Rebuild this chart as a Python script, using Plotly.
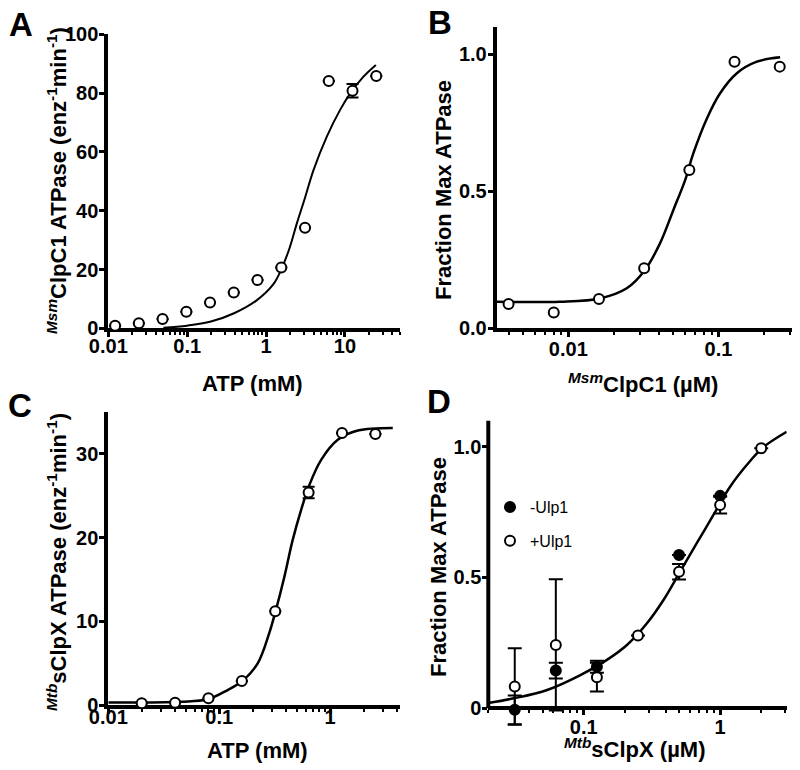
import plotly.graph_objects as go

W, H = 800, 770

# ---------------- data ----------------
# Panel A: MsmClpC1 ATPase vs ATP (mM)
A_atp = [0.0122, 0.0244, 0.0488, 0.0977, 0.195, 0.39, 0.78, 1.5625, 3.125, 6.25, 12.5, 25]
A_rate = [0.9, 1.7, 3.2, 5.6, 8.8, 12.2, 16.4, 20.7, 34.2, 84.1, 80.8, 85.8]
A_err = [0, 0, 0, 0, 0, 0, 0, 0, 0, 0, 2.3, 0]
A_fit_x = [0.05, 0.1, 0.2, 0.4, 0.76, 1.24, 1.56, 2.0, 2.46, 3.13, 4.0, 5.9, 8.7, 11.7, 17.2, 24.7]
A_fit_y = [0.2, 0.9, 2.3, 5.2, 9.5, 15.0, 20.0, 27.5, 35.7, 44.5, 53.8, 65.2, 74.3, 79.9, 85.6, 89.6]

# Panel B: Fraction max ATPase vs MsmClpC1 (uM)
B_conc = [0.004, 0.008, 0.016, 0.032, 0.064, 0.128, 0.256]
B_frac = [0.089, 0.058, 0.107, 0.219, 0.578, 0.973, 0.955]
B_fit_x = [0.00333, 0.00881, 0.01626, 0.0245, 0.0324, 0.0408, 0.0501, 0.060, 0.0681,
           0.0838, 0.1026, 0.1327, 0.1803, 0.2576]
B_fit_y = [0.097, 0.097, 0.109, 0.146, 0.213, 0.310, 0.432, 0.541, 0.639,
           0.766, 0.858, 0.931, 0.973, 0.989]

# Panel C: MtbsClpX ATPase vs ATP (mM)
C_atp = [0.02, 0.04, 0.08, 0.16, 0.32, 0.64, 1.28, 2.56]
C_rate = [0.2, 0.27, 0.8, 2.87, 11.2, 25.4, 32.5, 32.4]
C_err = [0, 0, 0, 0, 0, 0.7, 0, 0]
C_fit_x = [0.01, 0.0451, 0.0785, 0.119, 0.1626, 0.2223, 0.2825, 0.325, 0.3864, 0.4592,
           0.547, 0.65, 0.83, 1.172, 1.778, 3.67]
C_fit_y = [0.3, 0.39, 0.68, 1.79, 2.9, 4.98, 8.6, 11.4, 15.3, 19.7,
           23.3, 26.3, 29.3, 31.7, 32.8, 33.1]

# Panel D: Fraction max ATPase vs MtbsClpX (uM)
D_conc_minus = [0.03125, 0.0625, 0.125, 0.5, 1.0]
D_frac_minus = [-0.006, 0.144, 0.159, 0.586, 0.812]
D_err_minus = [0.055, 0.03, 0.023, 0.0, 0.0]
D_conc_plus = [0.03125, 0.0625, 0.125, 0.25, 0.5, 1.0, 2.0]
D_frac_plus = [0.083, 0.242, 0.119, 0.278, 0.522, 0.777, 0.994]
D_err_plus = [0.146, 0.251, 0.055, 0.0, 0.03, 0.032, 0.0]
D_fit_x = [0.0205, 0.0308, 0.054, 0.0946, 0.148, 0.2075, 0.291, 0.3846, 0.509, 0.6745,
           0.893, 1.183, 1.567, 2.075, 3.076]
D_fit_y = [0.021, 0.038, 0.070, 0.127, 0.185, 0.242, 0.325, 0.414, 0.522, 0.631,
           0.739, 0.847, 0.930, 0.998, 1.057]

LEGEND_LABELS = ["-Ulp1", "+Ulp1"]

# ---------------- styling ----------------
FONT = "Liberation Sans, Arial, sans-serif"
BLACK = "black"


def px_x(p):
    return p / W


def px_y(p):
    return 1 - p / H


def minor_vals(lo_exp, hi_exp):
    vals = []
    for e in range(lo_exp, hi_exp + 1):
        for m in range(2, 10):
            vals.append(m * 10 ** e)
    return vals


def bold_labels(labels):
    return ["<b>%s</b>" % s for s in labels]


def axis_base():
    return dict(showline=True, linewidth=4, linecolor=BLACK, mirror=False,
                ticks="outside", tickwidth=3, ticklen=5, tickcolor=BLACK,
                showgrid=False, zeroline=False, layer="below traces", automargin=False,
                tickfont=dict(family=FONT, size=20, color=BLACK))


def log_axis(rng, tvals, ttext, lo_exp, hi_exp, **kw):
    d = axis_base()
    d.update(type="log", range=rng, tickmode="array", tickvals=tvals, ticktext=bold_labels(ttext),
             minor=dict(tickmode="array", tickvals=minor_vals(lo_exp, hi_exp),
                        ticks="outside", ticklen=3, tickwidth=2, tickcolor=BLACK, showgrid=False))
    d.update(kw)
    return d


def lin_axis(rng, tvals, ttext, **kw):
    d = axis_base()
    d.update(range=rng, tickmode="array", tickvals=tvals, ticktext=bold_labels(ttext),
             ticklabelstandoff=-3)
    d.update(kw)
    return d


open_marker = dict(symbol="circle", size=10, color="white", line=dict(color=BLACK, width=2))
filled_marker = dict(symbol="circle", size=10, color=BLACK, line=dict(color=BLACK, width=2))


def err(vals, w=6):
    return dict(type="data", array=vals, visible=True, color=BLACK, thickness=2, width=w)


fig = go.Figure()

# Panel A
fig.add_trace(go.Scatter(x=A_fit_x, y=A_fit_y, mode="lines", line=dict(color=BLACK, width=2, shape="spline"),
                         xaxis="x", yaxis="y", showlegend=False, hoverinfo="skip"))
fig.add_trace(go.Scatter(x=A_atp, y=A_rate, mode="markers", marker=open_marker, error_y=err(A_err),
                         xaxis="x", yaxis="y", showlegend=False, cliponaxis=False))
# Panel B
fig.add_trace(go.Scatter(x=B_fit_x, y=B_fit_y, mode="lines", line=dict(color=BLACK, width=2.5, shape="spline"),
                         xaxis="x2", yaxis="y2", showlegend=False, hoverinfo="skip"))
fig.add_trace(go.Scatter(x=B_conc, y=B_frac, mode="markers", marker=open_marker,
                         xaxis="x2", yaxis="y2", showlegend=False, cliponaxis=False))
# Panel C
fig.add_trace(go.Scatter(x=C_fit_x, y=C_fit_y, mode="lines", line=dict(color=BLACK, width=2.5, shape="spline"),
                         xaxis="x3", yaxis="y3", showlegend=False, hoverinfo="skip"))
fig.add_trace(go.Scatter(x=C_atp, y=C_rate, mode="markers", marker=open_marker, error_y=err(C_err),
                         xaxis="x3", yaxis="y3", showlegend=False, cliponaxis=False))
# Panel D
fig.add_trace(go.Scatter(x=D_fit_x, y=D_fit_y, mode="lines", line=dict(color=BLACK, width=2.5, shape="spline"),
                         xaxis="x4", yaxis="y4", showlegend=False, hoverinfo="skip"))
fig.add_trace(go.Scatter(x=D_conc_minus, y=D_frac_minus, mode="markers", marker=filled_marker,
                         error_y=err(D_err_minus, 7), xaxis="x4", yaxis="y4", name=LEGEND_LABELS[0],
                         legendgroup="m", cliponaxis=False))
fig.add_trace(go.Scatter(x=D_conc_plus, y=D_frac_plus, mode="markers", marker=open_marker,
                         error_y=err(D_err_plus, 7), xaxis="x4", yaxis="y4", name=LEGEND_LABELS[1],
                         legendgroup="p", cliponaxis=False))

# ---------------- axes / layout ----------------
D_ymin, D_ymax = -0.085, 1.1
D_bottom_px = 730.5
D_zero_px = 708.3

layout = dict(
    width=W, height=H, margin=dict(l=0, r=0, t=0, b=0, pad=0, autoexpand=False),
    paper_bgcolor="white", plot_bgcolor="white",
    font=dict(family=FONT, color=BLACK),
    xaxis=log_axis([-2, 1.699], [0.01, 0.1, 1, 10], ["0.01", "0.1", "1", "10"], -2, 1,
                   domain=[px_x(108.3), px_x(400)], anchor="y", ticklabelstandoff=-8),
    yaxis=lin_axis([0, 100], [0, 20, 40, 60, 80, 100], ["0", "20", "40", "60", "80", "100"],
                   domain=[px_y(328.3), px_y(34.3)], anchor="x"),
    xaxis2=log_axis([-2.477, -0.51], [0.01, 0.1], ["0.01", "0.1"], -3, -1,
                    domain=[px_x(496.7), px_x(792)], anchor="y2", ticklabelstandoff=-5),
    yaxis2=lin_axis([0, 1.1], [0, 0.5, 1.0], ["0.0", "0.5", "1.0"],
                    domain=[px_y(328.3), px_y(328.3 - 1.1 * 274)], anchor="x2"),
    xaxis3=log_axis([-2, 0.63], [0.01, 0.1, 1], ["0.01", "0.1", "1"], -2, 0,
                    domain=[px_x(108.3), px_x(400)], anchor="y3", ticklabelstandoff=-14),
    yaxis3=lin_axis([0, 35], [0, 10, 20, 30], ["0", "10", "20", "30"],
                    domain=[px_y(705), px_y(705 - 35 * 8.367)], anchor="x3"),
    xaxis4=log_axis([-1.699, 0.488], [0.1, 1], ["0.1", "1"], -2, 0,
                    domain=[px_x(488.3), px_x(786.7)], anchor="free", position=px_y(D_zero_px),
                    ticklabelstandoff=-5),
    yaxis4=lin_axis([D_ymin, D_ymax], [0, 0.5, 1.0], ["0", "0.5", "1.0"],
                    domain=[px_y(D_bottom_px), px_y(D_zero_px - 1.1 * 261.6)], anchor="x4",
                    showline=False),
    showlegend=True,
    legend=dict(x=px_x(490), y=px_y(490), xanchor="left", yanchor="top",
                bgcolor="rgba(0,0,0,0)", borderwidth=0, tracegroupgap=10,
                font=dict(family=FONT, size=16, color=BLACK)),
)
fig.update_layout(**layout)

# y-axis line for panel D (from y=0 upward only)
fig.add_shape(type="line", xref="x4 domain", yref="y4", x0=0, x1=0, y0=0, y1=1.1,
              line=dict(color=BLACK, width=4), layer="below")

# ---------------- text ----------------
ann = []
txt_font = dict(family=FONT, color=BLACK)

for letter, (cx, cy) in zip(["A", "B", "C", "D"], [(21, 24), (440, 22), (20, 405), (439, 402)]):
    ann.append(dict(text="<b>%s</b>" % letter, x=px_x(cx), y=px_y(cy), xref="paper", yref="paper",
                    xanchor="center", yanchor="middle", showarrow=False,
                    font=dict(size=33, **txt_font)))

titles = [
    ("ATP (mM)", 252, 383, 0),
    ("<sup><i>Msm</i></sup>ClpC1 (µM)", 643, 383, 0),
    ("ATP (mM)", 257, 750, 0),
    ("<sup><i>Mtb</i></sup>sClpX (µM)", 634, 748, 0),
    ("<sup><i>Msm</i></sup>ClpC1 ATPase (enz<sup>-1</sup>min<sup>-1</sup>)", 57, 181, -90),
    ("Fraction Max ATPase", 444, 190, -90),
    ("<sup><i>Mtb</i></sup>sClpX ATPase (enz<sup>-1</sup>min<sup>-1</sup>)", 57, 562, -90),
    ("Fraction Max ATPase", 438, 567, -90),
]
for t, cx, cy, ang in titles:
    ann.append(dict(text="<b>%s</b>" % t, x=px_x(cx), y=px_y(cy), xref="paper", yref="paper",
                    xanchor="center", yanchor="middle", showarrow=False, textangle=ang,
                    font=dict(size=22, **txt_font)))

fig.update_layout(annotations=ann)

fig.write_html("out.html", config={"displayModeBar": False},
               post_script="document.body.style.margin='0px';")
